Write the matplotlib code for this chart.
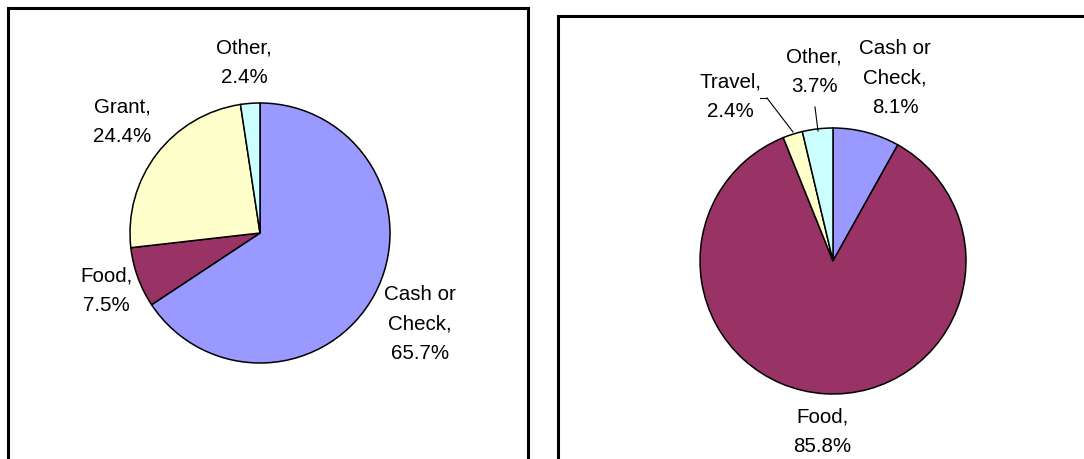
import matplotlib.pyplot as plt
from matplotlib.patches import Rectangle

# Data
left_labels = ['Cash or\nCheck', 'Food', 'Grant', 'Other']
left_values = [65.7, 7.5, 24.4, 2.4]
right_labels = ['Cash or\nCheck', 'Food', 'Travel', 'Other']
right_values = [8.1, 85.8, 2.4, 3.7]
colors = {'Cash or\nCheck': '#9999FF', 'Food': '#993366',
          'Grant': '#FFFFCC', 'Travel': '#FFFFCC', 'Other': '#CCFFFF'}

W, H = 1084, 459
plt.rcParams['font.family'] = ['Liberation Sans', 'DejaVu Sans']

fig = plt.figure(figsize=(W / 100, H / 100), dpi=100)
ax = fig.add_axes([0, 0, 1, 1])
ax.set_xlim(0, W)
ax.set_ylim(0, H)
ax.set_aspect('equal')
ax.axis('off')


def up(y):
    # pixel rows are counted from the top
    return H - y


# Chart frames
ax.add_patch(Rectangle((7.5, up(480)), 520, 472, fill=False, ec='black', lw=2.2))
ax.add_patch(Rectangle((558, up(480)), 560, 464, fill=False, ec='black', lw=2.2))


def draw_pie(values, labels, center, radius, label_pos, leaders=None):
    ax.pie(values, colors=[colors[l] for l in labels], startangle=90,
           counterclock=False, center=(center[0], up(center[1])), radius=radius,
           wedgeprops=dict(edgecolor='black', linewidth=1.1))
    for lab, val, (x, y) in zip(labels, values, label_pos):
        ax.text(x, up(y), f'{lab},\n{val}%', ha='center', va='center',
                fontsize=14.8, linespacing=1.7, multialignment='center')
    if leaders:
        for (x0, y0), (x1, y1) in leaders:
            ax.plot([x0, x1], [up(y0), up(y1)], color='black', lw=0.8)


draw_pie(left_values, left_labels, (260, 233), 130,
         [(420, 324), (106, 291), (122, 122), (244, 63)])

draw_pie(right_values, right_labels, (833, 261), 133,
         [(895, 78), (822, 432), (730, 97), (814, 72)],
         leaders=[((760, 98), (767, 98)), ((767, 98), (793, 132)),
                  ((815, 107), (818, 131))])

ax.set_xlim(0, W)
ax.set_ylim(0, H)
fig.savefig('out.png', dpi=100)
